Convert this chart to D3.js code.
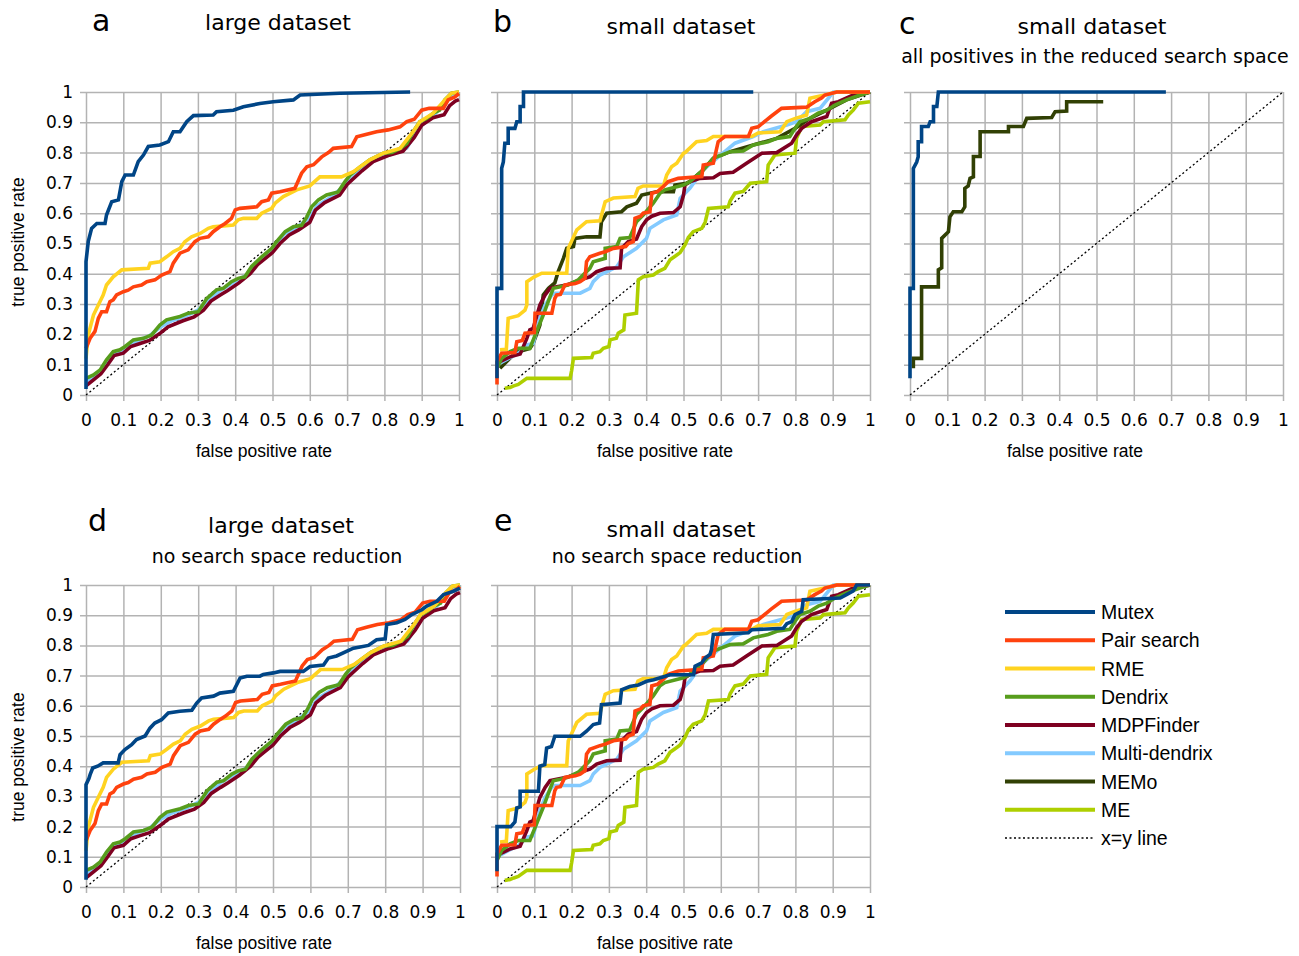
<!DOCTYPE html>
<html>
<head>
<meta http-equiv="Content-Type" content="text/html;charset=utf-8">
<title>ROC curves</title>
<script src="https://d3js.org/d3.v7.min.js"></script>
<style>
	html, body {
		margin: 0;
		padding: 0;
		background: #ffffff;
	}
	.curve {
		fill: none;
		stroke-width: 3.6px;
		stroke-linejoin: miter;
	}
	.diag {
		fill: none;
		stroke: #000;
		stroke-width: 1.3px;
		stroke-dasharray: 2 2.5;
	}
	.title { font-family: "DejaVu Sans"; font-size: 22px; text-anchor: middle; }
	.subtitle { font-family: "DejaVu Sans"; font-size: 19px; text-anchor: middle; }
	.letter { font-family: "DejaVu Sans"; font-size: 30px; }
	.axtitle { font-family: "Liberation Sans"; font-size: 17.5px; text-anchor: middle; }
	.legend { font-family: "Liberation Sans"; font-size: 19.5px; }
</style>
</head>
<body>
<script type="text/javascript">

// series names + colours (legend order)
let names = ["Mutex", "Pair search", "RME", "Dendrix", "MDPFinder", "Multi-dendrix", "MEMo", "ME"];
let colors = ["#004586", "#ff420e", "#ffd320", "#579d1c", "#7e0021", "#83caff", "#314004", "#aecf00"];

let tickValues = [0, 0.1, 0.2, 0.3, 0.4, 0.5, 0.6, 0.7, 0.8, 0.9, 1];
let tickLabels = ["0", "0.1", "0.2", "0.3", "0.4", "0.5", "0.6", "0.7", "0.8", "0.9", "1"];

// ---- large dataset, [fpr, tpr] ----
let mutexA = [[0,0.02],[0,0.44],[0.006,0.506],[0.015,0.55],[0.029,0.566],[0.051,0.566],[0.055,0.594],[0.069,0.638],[0.087,0.644],[0.096,0.704],[0.105,0.726],[0.127,0.726],[0.14,0.77],[0.154,0.792],[0.167,0.82],[0.198,0.825],[0.221,0.836],[0.234,0.869],[0.252,0.869],[0.27,0.902],[0.288,0.922],[0.341,0.924],[0.35,0.935],[0.395,0.94],[0.422,0.951],[0.466,0.962],[0.502,0.968],[0.556,0.974],[0.574,0.99],[0.68,0.996],[0.869,1]];

let mutexD = [[0,0.024],[0,0.339],[0.008,0.36],[0.011,0.372],[0.018,0.394],[0.031,0.4],[0.046,0.411],[0.086,0.411],[0.091,0.438],[0.104,0.455],[0.122,0.471],[0.135,0.488],[0.158,0.5],[0.171,0.526],[0.184,0.543],[0.202,0.554],[0.22,0.576],[0.251,0.582],[0.283,0.585],[0.296,0.609],[0.309,0.626],[0.341,0.632],[0.358,0.642],[0.394,0.648],[0.412,0.692],[0.43,0.698],[0.465,0.698],[0.474,0.704],[0.501,0.709],[0.519,0.714],[0.581,0.714],[0.599,0.73],[0.635,0.735],[0.648,0.758],[0.67,0.765],[0.715,0.791],[0.733,0.795],[0.755,0.8],[0.777,0.819],[0.8,0.822],[0.804,0.869],[0.831,0.875],[0.853,0.886],[0.871,0.902],[0.898,0.918],[0.911,0.93],[0.938,0.946],[0.956,0.968],[0.982,0.979],[1,0.99]];

let pairLarge = [[0,0.154],[0.011,0.187],[0.024,0.21],[0.033,0.253],[0.042,0.275],[0.055,0.275],[0.064,0.308],[0.073,0.314],[0.082,0.33],[0.1,0.341],[0.113,0.346],[0.127,0.357],[0.149,0.363],[0.163,0.374],[0.185,0.38],[0.203,0.396],[0.225,0.407],[0.234,0.435],[0.252,0.468],[0.274,0.479],[0.292,0.506],[0.306,0.517],[0.328,0.522],[0.341,0.539],[0.359,0.555],[0.373,0.566],[0.39,0.583],[0.4,0.611],[0.413,0.616],[0.458,0.621],[0.471,0.638],[0.489,0.644],[0.498,0.666],[0.52,0.671],[0.56,0.682],[0.578,0.732],[0.592,0.753],[0.61,0.76],[0.632,0.786],[0.65,0.8],[0.663,0.814],[0.712,0.82],[0.726,0.852],[0.75,0.86],[0.779,0.869],[0.81,0.875],[0.842,0.885],[0.86,0.902],[0.88,0.91],[0.9,0.94],[0.92,0.946],[0.958,0.946],[0.971,0.974],[0.989,0.984],[1,0.995]];

let rmeLarge = [[0,0.12],[0.006,0.198],[0.02,0.264],[0.033,0.297],[0.046,0.33],[0.055,0.363],[0.073,0.39],[0.096,0.413],[0.167,0.418],[0.172,0.435],[0.198,0.44],[0.216,0.456],[0.234,0.473],[0.252,0.484],[0.265,0.506],[0.283,0.522],[0.306,0.533],[0.328,0.55],[0.341,0.555],[0.395,0.561],[0.408,0.578],[0.422,0.583],[0.458,0.583],[0.471,0.6],[0.498,0.616],[0.507,0.633],[0.529,0.655],[0.565,0.677],[0.6,0.69],[0.627,0.72],[0.685,0.72],[0.717,0.737],[0.761,0.776],[0.797,0.798],[0.842,0.814],[0.877,0.869],[0.895,0.902],[0.931,0.93],[0.962,0.974],[0.98,0.996],[1,1]];

let dendrixLarge = [[0,0.055],[0.02,0.066],[0.038,0.083],[0.055,0.116],[0.073,0.143],[0.091,0.149],[0.105,0.16],[0.127,0.182],[0.154,0.187],[0.176,0.198],[0.198,0.231],[0.216,0.248],[0.252,0.259],[0.274,0.27],[0.301,0.275],[0.324,0.319],[0.35,0.347],[0.368,0.352],[0.39,0.374],[0.408,0.385],[0.426,0.39],[0.444,0.424],[0.471,0.456],[0.498,0.484],[0.511,0.506],[0.534,0.539],[0.556,0.555],[0.578,0.56],[0.592,0.588],[0.605,0.621],[0.623,0.644],[0.645,0.66],[0.676,0.67],[0.694,0.704],[0.708,0.726],[0.735,0.753],[0.761,0.776],[0.797,0.798],[0.82,0.8],[0.842,0.814],[0.86,0.83],[0.877,0.869],[0.895,0.902],[0.913,0.913],[0.931,0.93],[0.948,0.94],[0.962,0.974],[0.98,0.996],[1,1]];

let mdpLarge = [[0,0.03],[0.02,0.05],[0.04,0.07],[0.058,0.1],[0.075,0.13],[0.1,0.138],[0.12,0.16],[0.145,0.17],[0.17,0.18],[0.2,0.205],[0.22,0.225],[0.26,0.245],[0.29,0.258],[0.315,0.28],[0.335,0.31],[0.36,0.33],[0.38,0.345],[0.41,0.37],[0.44,0.4],[0.46,0.43],[0.5,0.47],[0.52,0.5],[0.545,0.528],[0.57,0.545],[0.6,0.57],[0.615,0.61],[0.64,0.635],[0.68,0.66],[0.7,0.695],[0.74,0.74],[0.77,0.77],[0.81,0.79],[0.85,0.805],[0.88,0.85],[0.9,0.89],[0.93,0.915],[0.96,0.925],[0.975,0.955],[0.99,0.97],[1,0.975]];

let multiLarge = [[0,0.045],[0.03,0.065],[0.06,0.11],[0.08,0.14],[0.11,0.155],[0.14,0.18],[0.17,0.195],[0.2,0.225],[0.23,0.245],[0.27,0.262],[0.3,0.28],[0.33,0.315],[0.36,0.345],[0.4,0.375],[0.43,0.395],[0.46,0.435],[0.5,0.475],[0.53,0.53],[0.56,0.55],[0.6,0.585],[0.62,0.625],[0.66,0.655],[0.7,0.7],[0.74,0.745],[0.78,0.78],[0.82,0.795],[0.86,0.815],[0.89,0.88],[0.93,0.92],[0.96,0.96],[0.98,0.985],[1,1]];

// ---- small dataset ----
let mutexB = [[0,0.055],[0,0.352],[0.0125,0.352],[0.0125,0.748],[0.017,0.769],[0.021,0.831],[0.03,0.831],[0.03,0.88],[0.048,0.88],[0.053,0.902],[0.062,0.902],[0.062,0.952],[0.071,0.952],[0.071,1],[0.687,1]];

let mutexC = [[0,0.055],[0,0.352],[0.009,0.352],[0.009,0.748],[0.018,0.769],[0.022,0.786],[0.022,0.836],[0.031,0.836],[0.031,0.886],[0.049,0.886],[0.054,0.902],[0.063,0.902],[0.063,0.952],[0.072,0.952],[0.076,1],[0.686,1]];

let mutexE = [[0,0.052],[0,0.2],[0.037,0.2],[0.048,0.215],[0.053,0.262],[0.062,0.265],[0.062,0.317],[0.111,0.317],[0.115,0.4],[0.128,0.405],[0.133,0.46],[0.146,0.465],[0.155,0.499],[0.223,0.499],[0.24,0.516],[0.258,0.538],[0.275,0.543],[0.28,0.604],[0.33,0.609],[0.334,0.653],[0.356,0.664],[0.379,0.669],[0.401,0.681],[0.42,0.686],[0.464,0.703],[0.527,0.703],[0.531,0.731],[0.549,0.742],[0.558,0.758],[0.571,0.77],[0.575,0.786],[0.58,0.836],[0.674,0.842],[0.683,0.852],[0.768,0.857],[0.777,0.872],[0.79,0.879],[0.799,0.902],[0.817,0.913],[0.821,0.951],[0.92,0.957],[0.937,0.968],[0.955,0.98],[0.964,1],[1,1]];

let pairSmall = [[0,0.035],[0,0.11],[0.0125,0.138],[0.048,0.14],[0.053,0.176],[0.068,0.18],[0.075,0.204],[0.1,0.206],[0.102,0.27],[0.147,0.27],[0.155,0.319],[0.16,0.33],[0.17,0.332],[0.182,0.363],[0.21,0.368],[0.223,0.374],[0.236,0.385],[0.24,0.44],[0.249,0.456],[0.276,0.468],[0.29,0.473],[0.312,0.484],[0.345,0.49],[0.352,0.5],[0.365,0.506],[0.37,0.583],[0.385,0.59],[0.392,0.6],[0.41,0.605],[0.415,0.666],[0.43,0.671],[0.446,0.688],[0.459,0.704],[0.486,0.715],[0.549,0.721],[0.553,0.759],[0.58,0.765],[0.593,0.836],[0.611,0.853],[0.674,0.853],[0.683,0.88],[0.7,0.885],[0.723,0.908],[0.735,0.92],[0.763,0.946],[0.83,0.95],[0.852,0.968],[0.87,0.98],[0.879,0.99],[0.911,1],[1,1]];

let rmeSmall = [[0.008,0.149],[0.025,0.151],[0.03,0.253],[0.057,0.262],[0.075,0.28],[0.08,0.297],[0.08,0.374],[0.1,0.39],[0.12,0.402],[0.187,0.402],[0.191,0.484],[0.214,0.545],[0.24,0.572],[0.276,0.575],[0.29,0.638],[0.312,0.65],[0.37,0.655],[0.378,0.682],[0.392,0.69],[0.446,0.69],[0.455,0.726],[0.468,0.753],[0.482,0.765],[0.5,0.798],[0.504,0.8],[0.535,0.836],[0.562,0.84],[0.58,0.853],[0.683,0.853],[0.7,0.865],[0.759,0.869],[0.777,0.902],[0.8,0.913],[0.83,0.924],[0.839,0.979],[0.86,0.985],[0.879,0.99],[0.911,1],[1,1]];

let dendrixSmall = [[0,0.088],[0.0125,0.121],[0.035,0.143],[0.057,0.154],[0.088,0.154],[0.106,0.209],[0.124,0.264],[0.142,0.324],[0.151,0.352],[0.17,0.357],[0.19,0.363],[0.218,0.38],[0.249,0.418],[0.258,0.44],[0.29,0.451],[0.29,0.484],[0.321,0.49],[0.33,0.517],[0.356,0.52],[0.374,0.572],[0.392,0.594],[0.419,0.633],[0.437,0.666],[0.45,0.677],[0.5,0.693],[0.517,0.704],[0.553,0.743],[0.58,0.781],[0.625,0.803],[0.66,0.805],[0.687,0.825],[0.727,0.836],[0.75,0.847],[0.785,0.853],[0.799,0.88],[0.812,0.902],[0.839,0.913],[0.861,0.93],[0.884,0.94],[0.906,0.957],[0.937,0.974],[0.973,0.99],[1,1]];

let mdpSmall = [[0,0.1],[0.008,0.11],[0.035,0.126],[0.062,0.135],[0.08,0.187],[0.088,0.215],[0.097,0.22],[0.115,0.297],[0.129,0.33],[0.142,0.352],[0.16,0.357],[0.187,0.363],[0.223,0.38],[0.249,0.39],[0.267,0.407],[0.294,0.418],[0.33,0.42],[0.334,0.484],[0.352,0.506],[0.374,0.515],[0.388,0.556],[0.401,0.578],[0.415,0.59],[0.437,0.6],[0.473,0.602],[0.491,0.621],[0.5,0.66],[0.504,0.693],[0.517,0.704],[0.544,0.715],[0.58,0.717],[0.598,0.731],[0.633,0.735],[0.669,0.765],[0.71,0.798],[0.75,0.8],[0.79,0.831],[0.803,0.858],[0.817,0.88],[0.843,0.902],[0.884,0.919],[0.897,0.963],[0.915,0.968],[0.955,0.99],[1,1]];

let multiSmall = [[0,0.1],[0.03,0.12],[0.06,0.14],[0.08,0.165],[0.097,0.17],[0.115,0.253],[0.129,0.297],[0.147,0.33],[0.155,0.336],[0.223,0.336],[0.249,0.352],[0.258,0.374],[0.276,0.396],[0.321,0.423],[0.339,0.456],[0.374,0.484],[0.401,0.517],[0.41,0.55],[0.446,0.578],[0.482,0.594],[0.491,0.649],[0.517,0.682],[0.553,0.743],[0.589,0.781],[0.638,0.831],[0.687,0.853],[0.714,0.869],[0.777,0.891],[0.803,0.902],[0.83,0.935],[0.866,0.946],[0.902,1],[1,1]];

let memoSmall = [[0.008,0.088],[0.05,0.14],[0.088,0.154],[0.097,0.17],[0.115,0.231],[0.124,0.33],[0.138,0.352],[0.155,0.37],[0.164,0.407],[0.169,0.423],[0.178,0.451],[0.187,0.484],[0.205,0.49],[0.209,0.517],[0.24,0.522],[0.276,0.522],[0.28,0.572],[0.294,0.6],[0.334,0.605],[0.348,0.621],[0.374,0.633],[0.388,0.66],[0.41,0.666],[0.428,0.671],[0.473,0.671],[0.477,0.693],[0.508,0.699],[0.517,0.704],[0.553,0.743],[0.58,0.781],[0.625,0.803],[0.687,0.825],[0.75,0.847],[0.799,0.88],[0.839,0.913],[0.884,0.94],[0.937,0.974],[1,1]];

let memoC = [[0.009,0.088],[0.009,0.121],[0.031,0.121],[0.031,0.357],[0.076,0.357],[0.076,0.413],[0.085,0.42],[0.085,0.517],[0.103,0.539],[0.107,0.588],[0.116,0.605],[0.139,0.605],[0.147,0.621],[0.147,0.682],[0.156,0.69],[0.161,0.715],[0.17,0.72],[0.17,0.787],[0.188,0.787],[0.188,0.869],[0.264,0.869],[0.264,0.886],[0.304,0.886],[0.313,0.913],[0.38,0.916],[0.389,0.935],[0.42,0.937],[0.42,0.968],[0.518,0.968]];

let meSmall = [[0.021,0.022],[0.035,0.025],[0.045,0.03],[0.057,0.035],[0.08,0.055],[0.196,0.055],[0.2,0.08],[0.205,0.121],[0.254,0.124],[0.258,0.138],[0.276,0.143],[0.285,0.154],[0.3,0.16],[0.303,0.182],[0.32,0.187],[0.325,0.204],[0.34,0.215],[0.343,0.264],[0.374,0.27],[0.379,0.38],[0.392,0.39],[0.419,0.396],[0.432,0.407],[0.45,0.418],[0.464,0.446],[0.482,0.462],[0.491,0.47],[0.504,0.495],[0.513,0.52],[0.526,0.539],[0.549,0.55],[0.558,0.57],[0.567,0.616],[0.62,0.621],[0.625,0.64],[0.638,0.666],[0.66,0.672],[0.679,0.699],[0.723,0.704],[0.727,0.759],[0.745,0.792],[0.799,0.798],[0.803,0.847],[0.817,0.886],[0.866,0.891],[0.875,0.902],[0.933,0.908],[0.942,0.924],[0.955,0.94],[0.969,0.963],[1,0.968]];

// panel layout (pixels) and which series each one shows
let panels = [
	{ letter: "a", x0: 86, x1: 459, yTop: 92, yBot: 395, yLabels: true, xTitle: 264,
	  letterPos: [92, 31], titles: [["large dataset", 278, 30, "title"]],
	  series: { "Mutex": mutexA, "Pair search": pairLarge, "RME": rmeLarge, "Dendrix": dendrixLarge, "MDPFinder": mdpLarge, "Multi-dendrix": multiLarge } },
	{ letter: "b", x0: 497, x1: 870, yTop: 92, yBot: 395, yLabels: false, xTitle: 665,
	  letterPos: [493, 32], titles: [["small dataset", 681, 34, "title"]],
	  series: { "Mutex": mutexB, "Pair search": pairSmall, "RME": rmeSmall, "Dendrix": dendrixSmall, "MDPFinder": mdpSmall, "Multi-dendrix": multiSmall, "MEMo": memoSmall, "ME": meSmall } },
	{ letter: "c", x0: 910, x1: 1283, yTop: 92, yBot: 395, yLabels: false, xTitle: 1075,
	  letterPos: [899, 34], titles: [["small dataset", 1092, 34, "title"], ["all positives in the reduced search space", 1095, 63, "subtitle"]],
	  series: { "Mutex": mutexC, "MEMo": memoC } },
	{ letter: "d", x0: 86, x1: 460, yTop: 585, yBot: 887, yLabels: true, xTitle: 264,
	  letterPos: [88, 531], titles: [["large dataset", 281, 533, "title"], ["no search space reduction", 277, 563, "subtitle"]],
	  series: { "Mutex": mutexD, "Pair search": pairLarge, "RME": rmeLarge, "Dendrix": dendrixLarge, "MDPFinder": mdpLarge, "Multi-dendrix": multiLarge } },
	{ letter: "e", x0: 497, x1: 870, yTop: 585, yBot: 887, yLabels: false, xTitle: 665,
	  letterPos: [494, 531], titles: [["small dataset", 681, 537, "title"], ["no search space reduction", 677, 563, "subtitle"]],
	  series: { "Mutex": mutexE, "Pair search": pairSmall, "RME": rmeSmall, "Dendrix": dendrixSmall, "MDPFinder": mdpSmall, "Multi-dendrix": multiSmall, "ME": meSmall } }
];

let svg = d3.select("body").append("svg")
	.attr("width", 1299)
	.attr("height", 956)
	.style("display", "block");

svg.append("rect").attr("width", 1299).attr("height", 956).attr("fill", "#fff");

let colorOf = d3.scaleOrdinal().domain(names).range(colors);

panels.forEach(function(p) {

	let x = d3.scaleLinear().domain([0, 1]).range([p.x0, p.x1]);
	let y = d3.scaleLinear().domain([0, 1]).range([p.yBot, p.yTop]);
	let w = p.x1 - p.x0;
	let h = p.yBot - p.yTop;

	let g = svg.append("g");

	// vertical grid + x labels
	let xa = g.append("g")
		.attr("transform", "translate(0," + (p.yBot + 6) + ")")
		.call(d3.axisBottom(x).tickValues(tickValues)
			.tickFormat((d, i) => tickLabels[i])
			.tickSize(-(h + 6)).tickPadding(13));

	// horizontal grid + y labels
	let ya = g.append("g")
		.attr("transform", "translate(" + (p.x0 - 6) + ",0)")
		.call(d3.axisLeft(y).tickValues(tickValues)
			.tickFormat((d, i) => p.yLabels ? tickLabels[i] : "")
			.tickSize(-(w + 6)).tickPadding(7));

	[xa, ya].forEach(function(a) {
		a.select(".domain").remove();
		a.selectAll("line").attr("stroke", "#b3b3b3").attr("stroke-width", 1.5);
		a.selectAll("text")
			.attr("font-family", "DejaVu Sans")
			.attr("font-size", 17)
			.attr("fill", "#000");
	});

	// x = y line
	g.append("path")
		.attr("class", "diag")
		.attr("d", d3.line()([[x(0), y(0)], [x(1), y(1)]]));

	let line = d3.line()
		.x(d => x(d[0]))
		.y(d => y(d[1]));

	// draw back to front so Mutex ends on top
	names.slice().reverse().forEach(function(n) {
		if (!p.series[n]) return;
		g.append("path")
			.attr("class", "curve")
			.attr("stroke", colorOf(n))
			.attr("d", line(p.series[n]));
	});

	// texts
	g.append("text").attr("class", "letter")
		.attr("x", p.letterPos[0]).attr("y", p.letterPos[1])
		.text(p.letter);

	p.titles.forEach(function(t) {
		g.append("text").attr("class", t[3])
			.attr("x", t[1]).attr("y", t[2])
			.text(t[0]);
	});

	g.append("text").attr("class", "axtitle")
		.attr("x", p.xTitle)
		.attr("y", p.yBot + 62)
		.text("false positive rate");

	if (p.yLabels) {
		let cy = p.letter == "a" ? 242 : 757;
		g.append("text").attr("class", "axtitle")
			.attr("transform", "translate(24," + cy + ") rotate(-90)")
			.text("true positive rate");
	}
});

// legend
let legendItems = names.concat(["x=y line"]);
let ly = d3.scalePoint().domain(legendItems).range([612, 838]);

let leg = svg.append("g");
legendItems.forEach(function(n, i) {
	let yy = ly(n);
	if (i < names.length) {
		leg.append("line")
			.attr("x1", 1005).attr("x2", 1095)
			.attr("y1", yy).attr("y2", yy)
			.attr("stroke", colorOf(n))
			.attr("stroke-width", 4);
	} else {
		leg.append("line")
			.attr("x1", 1005).attr("x2", 1095)
			.attr("y1", yy).attr("y2", yy)
			.attr("class", "diag");
	}
	leg.append("text").attr("class", "legend")
		.attr("x", 1101).attr("y", yy + 7)
		.text(n);
});

</script>
</body>
</html>
